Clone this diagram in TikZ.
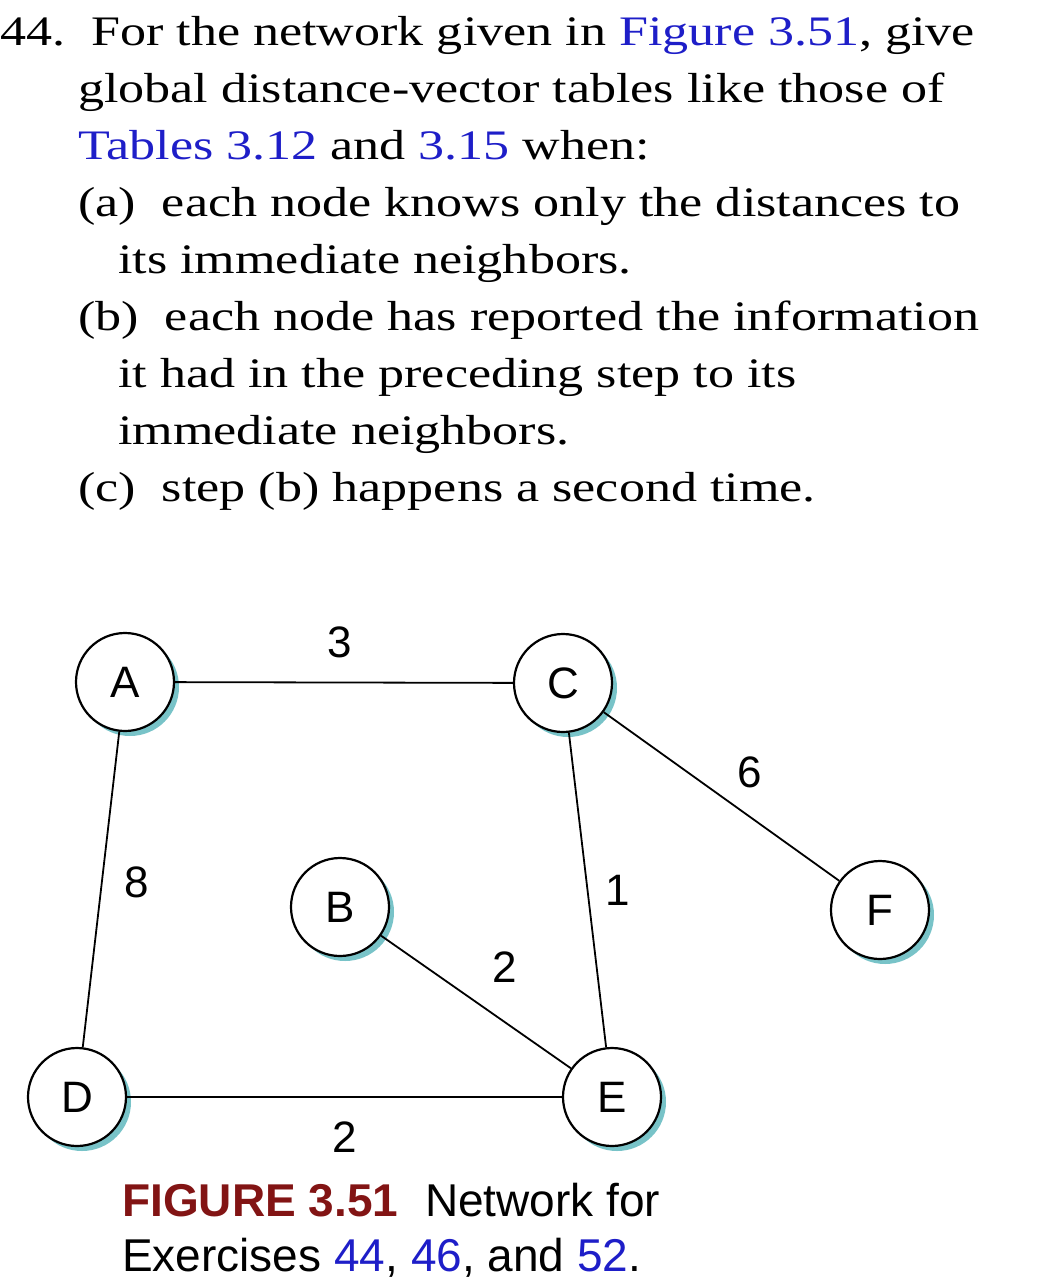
\documentclass[tikz,border=0pt]{standalone}
\usepackage{fontspec}
\setmainfont{Liberation Serif}[FakeStretch=1.24]
\setsansfont{Liberation Sans}
\definecolor{refblue}{RGB}{30,30,200}
\definecolor{figred}{RGB}{130,20,20}
\definecolor{shad}{RGB}{120,195,200}
\begin{document}
\begin{tikzpicture}[x=1pt,y=-1pt,
  txt/.style={anchor=base west,inner sep=0pt,font=\fontsize{42}{48}\selectfont},
  captxt/.style={anchor=base west,inner sep=0pt,font=\sffamily\fontsize{46}{52}\selectfont},
  nd/.style={circle,draw,line width=2.2pt,fill=white,minimum size=98pt,inner sep=0pt,font=\sffamily\fontsize{44}{48}\selectfont},
  lbl/.style={font=\sffamily\fontsize{44}{48}\selectfont,inner sep=0pt},
  ed/.style={line width=1.8pt}]
\useasboundingbox (0,0) rectangle (1039,1285);
\node[txt] (l1) at (0,45) {44.\ \ For the network given in \textcolor{refblue}{Figure 3.51}, give};
\node[txt] (l2) at (78,102) {global distance-vector tables like those of};
\node[txt] (l3) at (78,159) {\textcolor{refblue}{Tables 3.12} and \textcolor{refblue}{3.15} when:};
\node[txt] (l4) at (78,216) {(a)\ \ each node knows only the distances to};
\node[txt] (l5) at (118,273) {its immediate neighbors.};
\node[txt] (l6) at (78,330) {(b)\ \ each node has reported the information};
\node[txt] (l7) at (118,387) {it had in the preceding step to its};
\node[txt] (l8) at (118,444) {immediate neighbors.};
\node[txt] (l9) at (78,501) {(c)\ \ step (b) happens a second time.};
\foreach \n/\x/\y in {A/125/682,C/563/683,B/340/907,F/880/910,D/77/1097,E/612/1097}{
  \fill[shad] (\x+5,\y+5) circle (49);
  \node[nd] (\n) at (\x,\y) {\n};
}
\draw[ed] (A) -- (C);
\draw[ed] (A) -- (D);
\draw[ed] (C) -- (E);
\draw[ed] (C) -- (F);
\draw[ed] (B) -- (E);
\draw[ed] (D) -- (E);
\node[lbl] (w1) at (340,642) {3};
\node[lbl] (w2) at (750,772) {6};
\node[lbl] (w3) at (137,882) {8};
\node[lbl] (w4) at (618,890) {1};
\node[lbl] (w5) at (505,967) {2};
\node[lbl] (w6) at (345,1137) {2};
\node[captxt] (c1) at (122,1216) {\textcolor{figred}{\bfseries FIGURE 3.51}};
\node[captxt] (c2) at (425,1216) {Network for};
\node[captxt] (c3) at (122,1271) {Exercises \textcolor{refblue}{44}, \textcolor{refblue}{46}, and \textcolor{refblue}{52}.};
\end{tikzpicture}
\end{document}
